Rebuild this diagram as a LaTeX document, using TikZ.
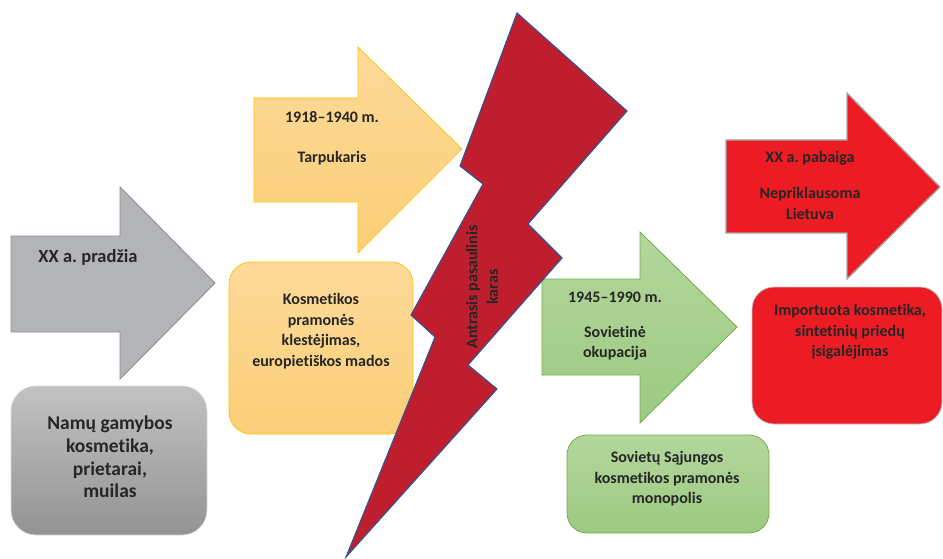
\documentclass[tikz,border=0pt]{standalone}
\usepackage{fontspec}
\setmainfont{Carlito}[Ligatures={NoCommon}]
\frenchspacing
\definecolor{txt}{HTML}{262626}
\definecolor{grayfill}{HTML}{B3B4B8}
\definecolor{grayline}{HTML}{8E8E8E}
\definecolor{boxgraytop}{HTML}{C2C2C2}
\definecolor{boxgraybot}{HTML}{939393}
\definecolor{yeltop}{HTML}{FDDA99}
\definecolor{yelbot}{HTML}{FBCF78}
\definecolor{yelline}{HTML}{FFC000}
\definecolor{grntop}{HTML}{B3D69C}
\definecolor{grnbot}{HTML}{9DCA82}
\definecolor{grnline}{HTML}{70AD47}
\definecolor{redfill}{HTML}{ED1C24}
\definecolor{redline}{HTML}{A6A6A6}
\definecolor{boltfill}{HTML}{BE1E2D}
\definecolor{boltline}{HTML}{2F5597}
\tikzset{
  lbl/.style={text=txt, font=\bfseries\fontsize{16}{20.5}\selectfont, align=center, inner sep=0pt},
  biglbl/.style={text=txt, font=\bfseries\fontsize{19.5}{22.7}\selectfont, align=center, inner sep=0pt},
  grayarrow/.style={fill=grayfill, draw=grayline, line width=0.9pt},
  grayboxst/.style={top color=boxgraytop, bottom color=boxgraybot, draw=gray!30, line width=0.6pt, rounded corners=25pt},
  yelarrow/.style={top color=yeltop, bottom color=yelbot, draw=yelline, line width=0.7pt},
  yelboxst/.style={top color=yeltop, bottom color=yelbot, draw=yelline, line width=0.7pt, rounded corners=22pt},
  grnarrow/.style={top color=grntop, bottom color=grnbot, draw=grnline, line width=0.8pt},
  grnboxst/.style={top color=grntop, bottom color=grnbot, draw=grnline, line width=0.8pt, rounded corners=20pt},
  redarrow/.style={fill=redfill, draw=redline, line width=1.3pt},
  redboxst/.style={fill=redfill, draw=redline!70, line width=0.8pt, rounded corners=22pt},
  boltst/.style={fill=boltfill, draw=boltline, line width=1.1pt, line join=miter},
}
\begin{document}
\begin{tikzpicture}[x=1pt,y=-1pt]
\useasboundingbox (0,0) rectangle (943,559);
% gray arrow
\draw[grayarrow] (11,236) -- (120,236) -- (120,187) -- (215,283) -- (120,379) -- (120,332) -- (11,332) -- cycle;
\node[lbl, font=\bfseries\fontsize{18.5}{22}\selectfont] (t1) at (88,257) {XX a. pradžia};
% gray box
\draw[grayboxst] (11,386) rectangle (207,535);
\node[biglbl] (b1) at (110,457) {Namų gamybos\\kosmetika,\\prietarai,\\muilas};
% yellow arrow
\draw[yelarrow] (254,98) -- (358,98) -- (358,47) -- (462,149) -- (358,253) -- (358,202) -- (254,202) -- cycle;
\node[lbl] (t2a) at (332,117) {1918–1940 m.};
\node[lbl] (t2b) at (332,158) {Tarpukaris};
% yellow box
\draw[yelboxst] (229,262) rectangle (413,434);
\node[lbl] (b2) at (321,331) {Kosmetikos\\pramonės\\klestėjimas,\\europietiškos mados};
% green arrow
\draw[grnarrow] (542,279) -- (640,279) -- (640,232) -- (737,327) -- (640,423) -- (640,375) -- (542,375) -- cycle;
\node[lbl] (t3a) at (615,297) {1945–1990 m.};
\node[lbl] (t3b) at (615,343) {Sovietinė\\okupacija};
% green box
\draw[grnboxst] (567,435) rectangle (769,533);
\node[lbl] (b3) at (667,479) {Sovietų Sąjungos\\kosmetikos pramonės\\monopolis};
% red arrow
\draw[redarrow] (726,140) -- (847,140) -- (847,93) -- (940,187) -- (847,279) -- (847,233) -- (726,233) -- cycle;
\node[lbl] (t4a) at (810,158) {XX a. pabaiga};
\node[lbl] (t4b) at (810,203.5) {Nepriklausoma\\Lietuva};
% red box
\draw[redboxst] (752,287) rectangle (942,424);
\node[lbl] (b4) at (850,332) {Importuota kosmetika,\\sintetinių priedų\\įsigalėjimas};
% lightning bolt
\draw[boltst] (517,13) -- (627,111) -- (528,224) -- (562,258) -- (468,365) -- (497,389)
  -- (346,557) -- (435,337) -- (411,315) -- (483,184) -- (460,166) -- cycle;
\node[lbl, rotate=90] (war) at (482,287) {Antrasis pasaulinis\\karas};
\end{tikzpicture}
\end{document}
